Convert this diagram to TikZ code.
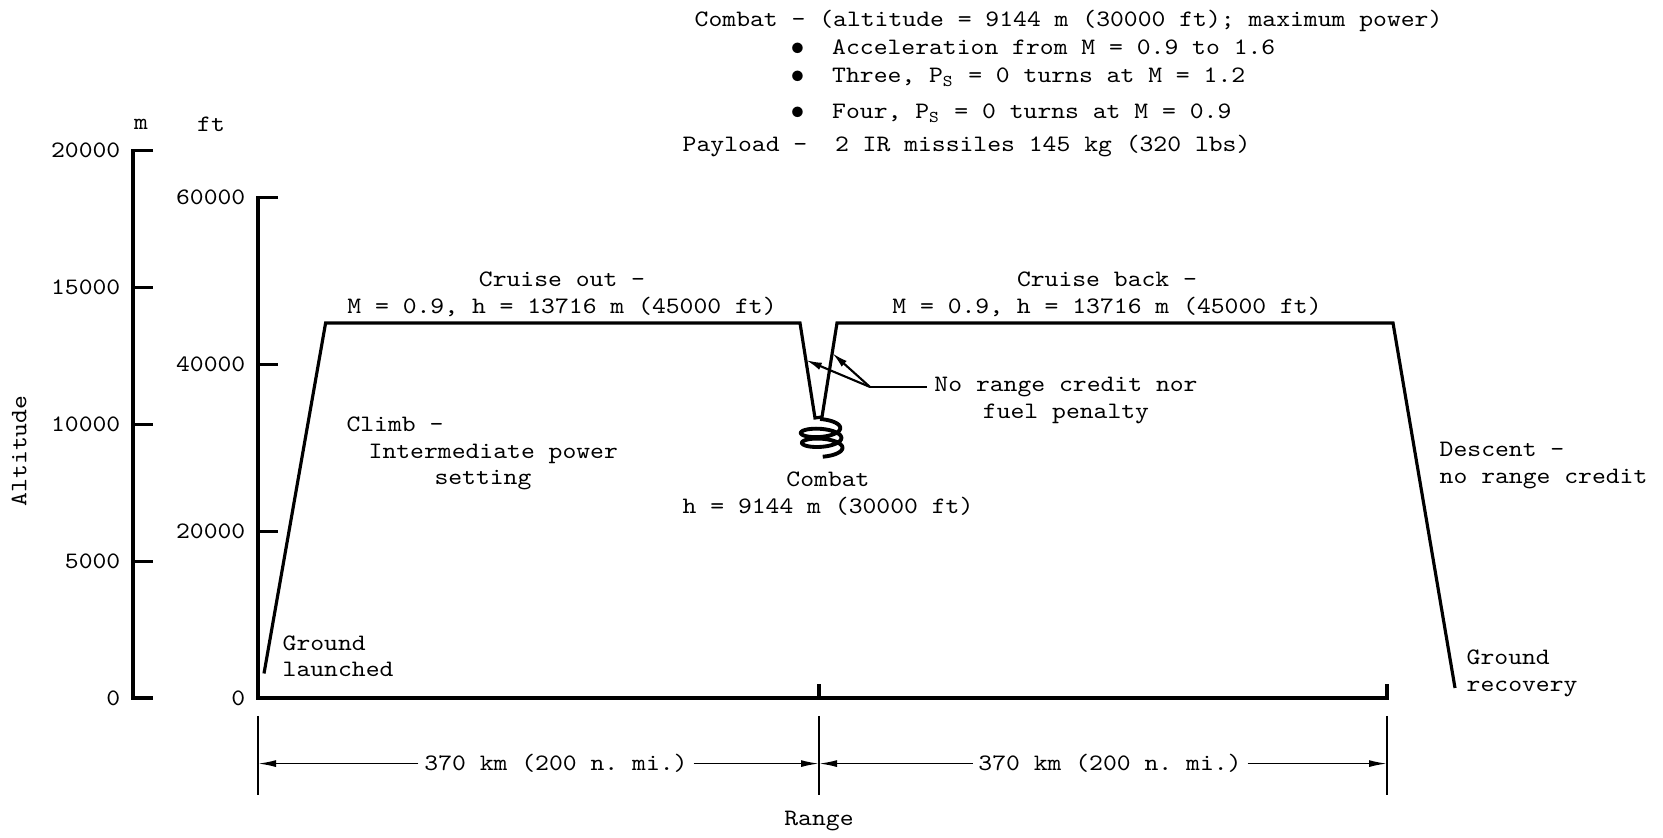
\documentclass[tikz,border=0pt]{standalone}
\usepackage{fontspec}
\setmonofont[FakeStretch=1.12]{lmmono10-regular.otf}
\usetikzlibrary{arrows.meta}
\newcommand{\lbltext}{\ttfamily\fontsize{6.7}{7.6}\selectfont}
\newcommand{\bul}{\makebox[0.419cm][l]{$\bullet$}}
\tikzset{
  lbl/.style={font=\lbltext, inner sep=0pt},
  heavy/.style={line width=0.9pt},
  thinline/.style={line width=0.45pt},
  dimarrow/.style={-{Latex[length=1.8mm,width=0.7mm]}, line width=0.45pt},
  leader/.style={-{Latex[length=1.6mm,width=0.75mm]}, line width=0.6pt}
}

\begin{document}
\begin{tikzpicture}
  \useasboundingbox (0,0) rectangle (16.63,8.38);

  % altitude scales
  \draw[heavy] (1.53,6.873) -- (1.33,6.873) -- (1.33,1.40) -- (1.53,1.40);
  \foreach \y in {2.768,4.137,5.505} \draw[heavy] (1.33,\y) -- (1.53,\y);
  \foreach \y/\v in {1.40/0,2.768/5000,4.137/10000,5.505/15000,6.873/20000}
    \node[lbl, anchor=east] (m\v) at (1.21,\y) {\v};
  \draw[heavy] (2.78,6.405) -- (2.58,6.405) -- (2.58,1.40) -- (13.87,1.40) -- (13.87,1.54);
  \foreach \y in {3.068,4.737} \draw[heavy] (2.58,\y) -- (2.78,\y);
  \draw[heavy] (8.19,1.40) -- (8.19,1.54);
  \foreach \y/\v in {1.40/0,3.068/20000,4.737/40000,6.405/60000}
    \node[lbl, anchor=east] (ft\v) at (2.46,\y) {\v};
  \node[lbl] (munit) at (1.41,7.14) {m};
  \node[lbl] (ftunit) at (2.11,7.14) {ft};
  \node[lbl, rotate=90] (alt) at (0.19,3.87) {Altitude};

  % mission profile
  \draw[heavy] (2.64,1.645) -- (3.256,5.15) -- (8.00,5.15)
    -- coordinate[pos=0.39] (legL) (8.15,4.20) -- (8.22,4.21)
    -- coordinate[pos=0.68] (legR) (8.37,5.15) -- (13.93,5.15) -- (14.55,1.50);
  \draw[line width=1.1pt] plot[domain=0:900, samples=160, smooth]
    ({8.20+0.00003*\x+0.2*sin(\x)}, {4.125-0.000278*\x+0.065*cos(\x)});

  % labels
  \node[lbl, anchor=base west] (combathead) at (6.94,8.11) {Combat - (altitude = 9144 m (30000 ft); maximum power)};
  \node[lbl, anchor=base west] (accel) at (7.896,7.835) {\bul Acceleration from M = 0.9 to 1.6};
  \node[lbl, anchor=base west] (three) at (7.896,7.55) {\bul Three, P\textsubscript{S} = 0 turns at M = 1.2};
  \node[lbl, anchor=base west] (four) at (7.896,7.19) {\bul Four, P\textsubscript{S} = 0 turns at M = 0.9};
  \node[lbl, anchor=base west] (payload) at (6.82,6.86) {Payload -\ \ 2 IR missiles 145 kg (320 lbs)};

  \node[lbl, align=center, anchor=base] (cruiseout) at (5.62,5.245) {Cruise out -\\M = 0.9, h = 13716 m (45000 ft)};
  \node[lbl, align=center, anchor=base] (cruiseback) at (11.07,5.245) {Cruise back -\\M = 0.9, h = 13716 m (45000 ft)};
  \node[lbl, anchor=base west] (climb) at (3.458,4.06) {Climb -};
  \node[lbl, anchor=base west] (power) at (3.68,3.79) {Intermediate power};
  \node[lbl, anchor=base west] (setting) at (4.338,3.53) {setting};
  \node[lbl, align=center, anchor=base] (combat) at (8.28,3.247) {Combat\\h = 9144 m (30000 ft)};
  \node[lbl, align=left, anchor=base west] (launch) at (2.82,1.61) {Ground\\launched};
  \node[lbl, align=left, anchor=base west] (descent) at (14.39,3.547) {Descent -\\no range credit};
  \node[lbl, align=left, anchor=base west] (recovery) at (14.66,1.463) {Ground\\recovery};
  \node[lbl, align=center, anchor=base] (nocredit) at (10.66,4.197) {No range credit nor\\fuel penalty};

  \coordinate (fork) at (8.70,4.51);
  \coordinate (leadend) at (9.27,4.51);
  \draw[line width=0.6pt] (fork) -- (leadend);
  \draw[leader] (fork) -- (legL);
  \draw[leader] (fork) -- (legR);

  % range dimensions
  \foreach \x/\n in {2.58/A,8.19/B,13.87/C} {
    \draw[thinline] (\x,1.22) -- (\x,0.425);
    \coordinate (dim\n) at (\x,0.744);
  }
  \node[lbl, inner sep=1.5pt] (rangeout) at (5.56,0.744) {370 km (200 n. mi.)};
  \node[lbl, inner sep=1.5pt] (rangeback) at (11.10,0.744) {370 km (200 n. mi.)};
  \draw[dimarrow] (rangeout) -- (dimA);
  \draw[dimarrow] (rangeout) -- (dimB);
  \draw[dimarrow] (rangeback) -- (dimB);
  \draw[dimarrow] (rangeback) -- (dimC);
  \node[lbl, anchor=base] (range) at (8.19,0.12) {Range};
\end{tikzpicture}
\end{document}
